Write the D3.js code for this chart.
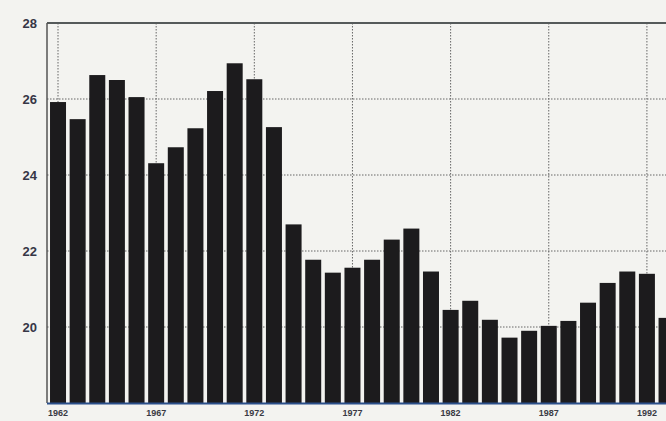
<!DOCTYPE html>
<html><head><meta charset="utf-8">
<script src="https://cdn.jsdelivr.net/npm/d3@7/dist/d3.min.js"></script>
<style>html,body{margin:0;padding:0;background:#f3f3f0;overflow:hidden}</style>
</head><body>
<svg id="c" width="666" height="421"></svg>
<script>
const years = d3.range(1962, 1994);
const values = [25.92, 25.47, 26.63, 26.50, 26.05, 24.31, 24.73, 25.23, 26.21, 26.94, 26.52, 25.26,
  22.70, 21.77, 21.43, 21.56, 21.77, 22.30, 22.59, 21.46, 20.45, 20.69, 20.19, 19.72,
  19.90, 20.03, 20.16, 20.64, 21.16, 21.46, 21.40, 20.24];
const yTicks = [20, 22, 24, 26, 28];
const xTicks = [1962, 1967, 1972, 1977, 1982, 1987, 1992];

(function () {
const svg = d3.select('#c');
const mLeft = 47, mTop = 23, mBottom = 403, mRight = 690;
const step = 19.63;
const x = d3.scaleBand().domain(years).range([mLeft + 1.2, mLeft + 1.2 + years.length * step])
  .paddingInner(0.185).paddingOuter(0.0925);
const y = d3.scaleLinear().domain([18, 28]).range([mBottom, mTop]);

svg.append('rect').attr('width', 666).attr('height', 421).attr('fill', '#f3f3f0');

// gridlines
const g = svg.append('g');
g.selectAll('.hg').data(yTicks.filter(d => d < 28)).join('line')
  .attr('x1', mLeft).attr('x2', mRight).attr('y1', d => y(d)).attr('y2', d => y(d))
  .attr('stroke', '#666').attr('stroke-width', 1).attr('stroke-dasharray', '1.5,1.5');
g.selectAll('.vg').data(xTicks).join('line')
  .attr('x1', d => x(d) + x.bandwidth() / 2).attr('x2', d => x(d) + x.bandwidth() / 2)
  .attr('y1', mTop).attr('y2', mBottom)
  .attr('stroke', '#666').attr('stroke-width', 1).attr('stroke-dasharray', '1.5,1.5');

// bars
svg.append('g').selectAll('rect').data(years).join('rect')
  .attr('x', d => x(d)).attr('width', x.bandwidth())
  .attr('y', (d, i) => y(values[i])).attr('height', (d, i) => mBottom - y(values[i]))
  .attr('fill', '#1c1b1d');

// frame
svg.append('line').attr('x1', mLeft).attr('x2', mRight).attr('y1', mTop).attr('y2', mTop)
  .attr('stroke', '#555a5a').attr('stroke-width', 2);
svg.append('line').attr('x1', mLeft).attr('x2', mLeft).attr('y1', mTop).attr('y2', mBottom)
  .attr('stroke', '#555').attr('stroke-width', 1.5);
svg.append('line').attr('x1', mLeft).attr('x2', mRight).attr('y1', mBottom + 0.5).attr('y2', mBottom + 0.5)
  .attr('stroke', '#2a4f8a').attr('stroke-width', 2);

// y labels
svg.append('g').selectAll('text').data(yTicks).join('text')
  .attr('x', 37).attr('y', d => y(d)).attr('dy', '0.36em').attr('text-anchor', 'end')
  .attr('font-family', 'Liberation Sans, Arial, sans-serif').attr('font-weight', 'bold')
  .attr('font-size', 13).attr('fill', '#363646').text(d => d);

// x labels
svg.append('g').selectAll('text').data(xTicks).join('text')
  .attr('x', d => x(d) + x.bandwidth() / 2).attr('y', 416).attr('text-anchor', 'middle')
  .attr('font-family', 'Liberation Sans, Arial, sans-serif').attr('font-weight', 'bold')
  .attr('font-size', 9).attr('fill', '#3a3a44').text(d => d);
})();
</script>
</body></html>
